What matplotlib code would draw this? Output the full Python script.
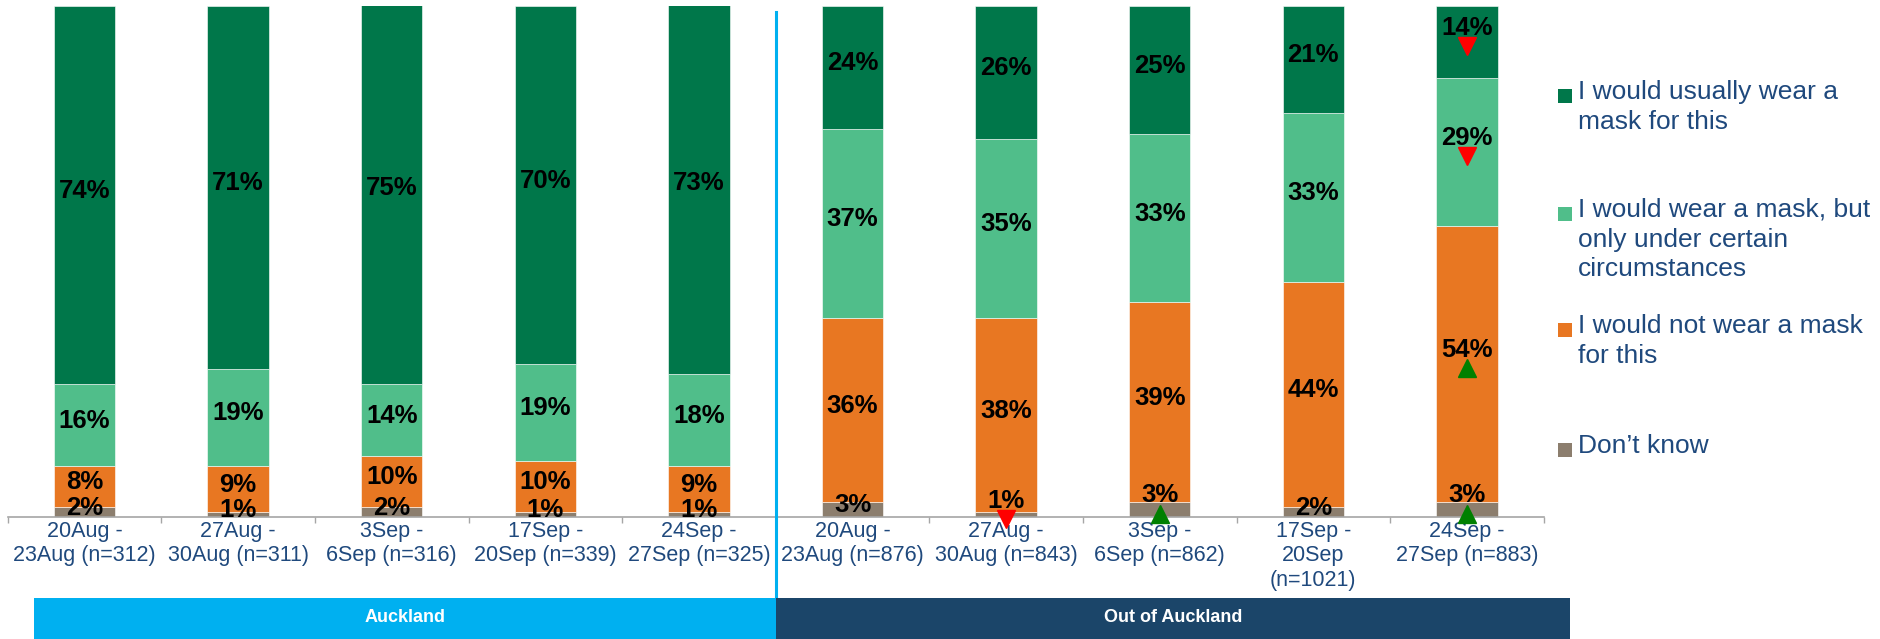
import matplotlib
matplotlib.use("Agg")
import matplotlib.pyplot as plt
import matplotlib.transforms as mtransforms
from matplotlib.patches import Rectangle
import numpy as np

plt.rcParams['font.family'] = ['Liberation Sans', 'DejaVu Sans']

# survey waves (Auckland first, then rest of the country)
categories = ["20Aug -\n23Aug (n=312)", "27Aug -\n30Aug (n=311)", "3Sep -\n6Sep (n=316)",
              "17Sep -\n20Sep (n=339)", "24Sep -\n27Sep (n=325)",
              "20Aug -\n23Aug (n=876)", "27Aug -\n30Aug (n=843)", "3Sep -\n6Sep (n=862)",
              "17Sep -\n20Sep\n(n=1021)", "24Sep -\n27Sep (n=883)"]

dont_know = [2, 1, 2, 1, 1, 3, 1, 3, 2, 3]
not_wear = [8, 9, 10, 10, 9, 36, 38, 39, 44, 54]
certain = [16, 19, 14, 19, 18, 37, 35, 33, 33, 29]
usually = [74, 71, 75, 70, 73, 24, 26, 25, 21, 14]

# significant change vs previous wave: 1 = up, -1 = down, 0 = none
dont_know_sig = [0, 0, 0, 0, 0, 0, -1, 1, 0, 1]
not_wear_sig = [0, 0, 0, 0, 0, 0, 0, 0, 0, 1]
certain_sig = [0, 0, 0, 0, 0, 0, 0, 0, 0, -1]
usually_sig = [0, 0, 0, 0, 0, 0, 0, 0, 0, -1]

legend_labels = ["I would usually wear a\nmask for this",
                 "I would wear a mask, but\nonly under certain\ncircumstances",
                 "I would not wear a mask\nfor this",
                 "Don\u2019t know"]

groups = ["Auckland", "Out of Auckland"]

colors = ['#8C7E6E', '#E87722', '#50BE8A', '#00774A']
navy = '#1F497D'

W, H = 1881, 639
fig = plt.figure(figsize=(W / 100, H / 100), dpi=100)
ax = fig.add_axes([7.7 / W, 1 - 517 / H, (1543.7 - 7.7) / W, (517 - 6) / H])

x = np.arange(len(categories))
series = [dont_know, not_wear, certain, usually]
sigs = [dont_know_sig, not_wear_sig, certain_sig, usually_sig]

bottom = np.zeros(len(categories))
for vals, sig, col in zip(series, sigs, colors):
    vals = np.array(vals, dtype=float)
    ax.bar(x, vals, width=0.4, bottom=bottom, color=col,
           edgecolor='white', linewidth=0.4, zorder=2)
    mids = bottom + vals / 2
    for xi, m, v, s in zip(x, mids, vals, sig):
        dy = 10 if s else 3
        ax.annotate(f"{v:.0f}%", (xi, m), xytext=(0, dy), textcoords='offset points',
                    ha='center', va='center', fontsize=18.5, fontweight='bold',
                    color='black', zorder=4, annotation_clip=False)
        if s:
            tr = mtransforms.offset_copy(ax.transData, fig=fig, y=-3, units='points')
            ax.plot(xi, m, marker='^' if s > 0 else 'v', markersize=13,
                    color='#008000' if s > 0 else '#FF0000', transform=tr,
                    clip_on=False, zorder=5, linestyle='none')
    bottom += vals

ax.set_xlim(-0.5, len(categories) - 0.5)
ax.set_ylim(0, 100)
ax.set_yticks([])
for sp in ['top', 'right', 'left']:
    ax.spines[sp].set_visible(False)
ax.spines['bottom'].set_color('#A6A6A6')
ax.spines['bottom'].set_linewidth(1.2)

# boundary ticks, labels centred under bars
ax.set_xticks(np.arange(-0.5, len(categories)), labels=[])
ax.set_xticks(x, labels=categories, minor=True)
ax.tick_params(axis='x', which='major', length=4.5, width=1.0, color='#A6A6A6', direction='out')
ax.tick_params(axis='x', which='minor', length=0, pad=3, labelsize=15.5, labelcolor=navy)

# divider between the two regions
xt = ax.get_xaxis_transform()
ax.plot([4.5, 4.5], [-0.1585, 0.988], transform=xt, color='#00B0F0', lw=2.2,
        clip_on=False, zorder=6)

# region bands under the axis labels
band_y, band_h = -0.2387, 0.0802
band_x = [(-0.329, 4.5), (4.5, 9.671)]
band_cols = ['#00B0F0', '#1B4569']
for (x0, x1), g, c in zip(band_x, groups, band_cols):
    ax.add_patch(Rectangle((x0, band_y), x1 - x0, band_h, transform=xt,
                           facecolor=c, edgecolor='none', clip_on=False, zorder=7))
    ax.text((x0 + x1) / 2, band_y + band_h / 2 + 0.002, g, transform=xt, ha='center',
            va='center', fontsize=13, fontweight='bold', color='white', zorder=8)

# legend drawn by hand to keep the uneven spacing
leg_y = [96, 214, 330, 450]
for lab, c, yy in zip(legend_labels, colors[::-1], leg_y):
    fig.patches.append(Rectangle((1558 / W, 1 - (yy + 7) / H), 14 / W, 14 / H,
                                 transform=fig.transFigure, facecolor=c, edgecolor='none'))
    fig.text(1578 / W, 1 - (yy - 16) / H, lab, ha='left', va='top', fontsize=19,
             color=navy, linespacing=1.3)

fig.savefig('out.png', dpi=100)
